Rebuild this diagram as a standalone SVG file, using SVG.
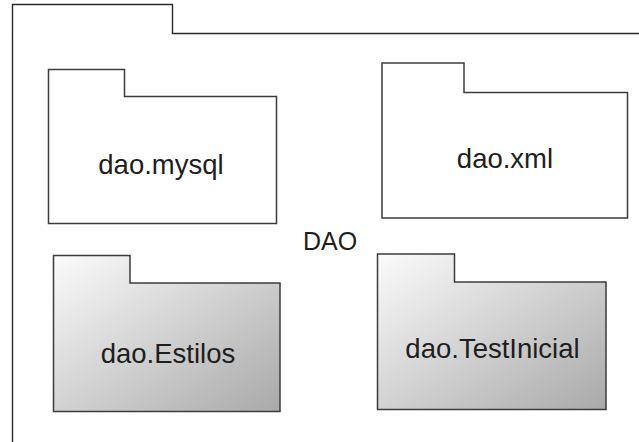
<svg xmlns="http://www.w3.org/2000/svg" width="639" height="442" viewBox="0 0 639 442">
<style>
.frame{fill:none;stroke:#2a2a2a;stroke-width:1.4}
.pkg{stroke:#3c3c3c;stroke-width:1.5;stroke-linejoin:miter}
.plain{fill:#ffffff}
.shaded{fill:url(#grad)}
text{font-family:"Liberation Sans",Arial,sans-serif;font-size:27.5px;fill:#1e1e1e;text-anchor:middle}
.title{font-size:25px}
</style>
<defs>
<linearGradient id="grad" x1="0" y1="0" x2="1" y2="1">
<stop offset="0" stop-color="#fbfbfb"/>
<stop offset="1" stop-color="#a9a9a9"/>
</linearGradient>
</defs>
<rect width="639" height="442" fill="#ffffff"/>
<g id="DAO">
<path class="frame" d="M12.5,442 V4.5 H172.5 V33.5 H639"/>
<text class="title" x="330" y="250">DAO</text>
</g>
<g id="dao.mysql">
<path class="pkg plain" d="M48.5,69.5 H124.5 V96.5 H276.5 V223.5 H48.5 Z"/>
<text x="161" y="174">dao.mysql</text>
</g>
<g id="dao.xml">
<path class="pkg plain" d="M382,63 H464 V92.5 H627.5 V218 H382 Z"/>
<text x="505" y="168">dao.xml</text>
</g>
<g id="dao.Estilos">
<path class="pkg shaded" d="M53.5,255.5 H130 V283 H280 V411.5 H53.5 Z"/>
<text x="168" y="363">dao.Estilos</text>
</g>
<g id="dao.TestInicial">
<path class="pkg shaded" d="M377.5,254 H454.5 V282 H606 V409.5 H377.5 Z"/>
<text x="492.5" y="358">dao.TestInicial</text>
</g>
<g id="connectors"/>
</svg>
